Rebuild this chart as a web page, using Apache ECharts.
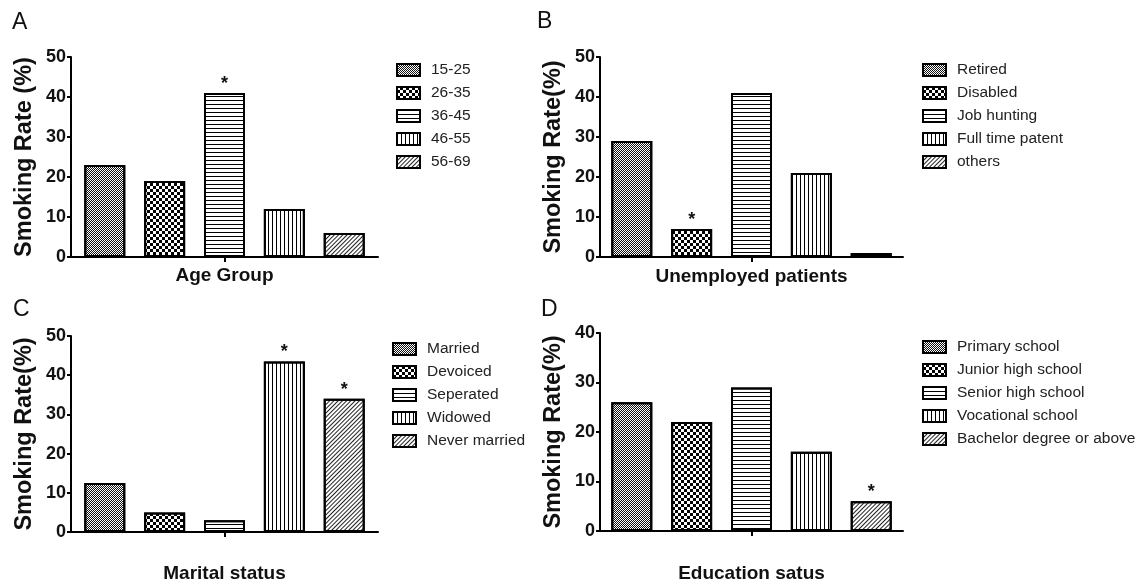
<!DOCTYPE html>
<html>
<head>
<meta charset="utf-8">
<script src="https://cdn.jsdelivr.net/npm/echarts@6/dist/echarts.min.js"></script>
<style>
html,body{margin:0;padding:0;background:#fff;}
#chart{width:1144px;height:584px;}
</style>
</head>
<body>
<div id="chart"></div>
<script>
// ---- data ----
const panelLetters = ['A', 'B', 'C', 'D'];
const xAxisNames = ['Age Group', 'Unemployed patients', 'Marital status', 'Education satus'];
const yAxisNames = ['Smoking Rate (%)', 'Smoking Rate(%)', 'Smoking Rate(%)', 'Smoking Rate(%)'];
const yMax = [50, 50, 50, 40];
const yInterval = [10, 10, 10, 10];

const catsA = ['15-25', '26-35', '36-45', '46-55', '56-69'];
const valsA = [23, 19, 41, 12, 6];
const starsA = [false, false, true, false, false];

const catsB = ['Retired', 'Disabled', 'Job hunting', 'Full time patent', 'others'];
const valsB = [29, 7, 41, 21, 1];
const starsB = [false, true, false, false, false];

const catsC = ['Married', 'Devoiced', 'Seperated', 'Widowed', 'Never married'];
const valsC = [12.5, 5, 3, 43.5, 34];
const starsC = [false, false, false, true, true];

const catsD = ['Primary school', 'Junior high school', 'Senior high school', 'Vocational school', 'Bachelor degree or above'];
const valsD = [26, 22, 29, 16, 6];
const starsD = [false, false, false, false, true];

const panels = [
  { cats: catsA, vals: valsA, stars: starsA },
  { cats: catsB, vals: valsB, stars: starsB },
  { cats: catsC, vals: valsC, stars: starsC },
  { cats: catsD, vals: valsD, stars: starsD }
];

// ---- layout / style ----
const grids = [
  { left: 71, top: 57, width: 307, height: 200 },
  { left: 600, top: 57, width: 303, height: 200 },
  { left: 71, top: 336, width: 307, height: 199 },
  { left: 600, top: 333, width: 303, height: 200 }
];
const barWidths = [41, 41, 41, 41];
const barGaps = ['46%', '46%', '46%', '46%'];
const xNameGaps = [9, 10, 32, 33];
const legendPos = [
  { left: 396, top: 62 },
  { left: 922, top: 62 },
  { left: 392, top: 341 },
  { left: 922, top: 339 }
];
const letterPos = [
  { left: 12, top: 11 },
  { left: 537, top: 10 },
  { left: 13, top: 298 },
  { left: 541, top: 298 }
];

const decals = [
  { symbol: 'rect', symbolSize: 1, color: '#111', dashArrayX: [[1, 1], [0, 1, 1, 0]], dashArrayY: [1, 0] },
  { symbol: 'rect', symbolSize: 1, color: '#000', dashArrayX: [[3, 3], [0, 3, 3, 0]], dashArrayY: [3, 0] },
  { symbol: 'rect', symbolSize: 1, color: '#000', dashArrayX: [1, 0], dashArrayY: [1, 3] },
  { symbol: 'rect', symbolSize: 1, color: '#000', dashArrayX: [1, 3], dashArrayY: [1, 0] },
  { symbol: 'rect', symbolSize: 1, color: '#222', dashArrayX: [1, 0], dashArrayY: [1, 1.5], rotation: -Math.PI / 4 }
];

const FONT = 'Arial, "Liberation Sans", Helvetica, sans-serif';

const option = {
  animation: false,
  backgroundColor: '#fff',
  title: panelLetters.map((t, i) => ({
    text: t, left: letterPos[i].left, top: letterPos[i].top, padding: 0,
    textStyle: { fontFamily: FONT, fontSize: 23, fontWeight: 'normal', color: '#111' }
  })),
  grid: grids.map(g => Object.assign({ containLabel: false }, g)),
  legend: panels.map((p, i) => ({
    data: p.cats,
    orient: 'vertical',
    left: legendPos[i].left,
    top: legendPos[i].top,
    padding: 0,
    icon: 'rect',
    itemWidth: 23,
    itemHeight: 12,
    itemGap: 7,
    selectedMode: false,
    textStyle: { fontFamily: FONT, fontSize: 15.5, color: '#222', padding: [0, 0, 0, 6] }
  })),
  xAxis: panels.map((p, i) => ({
    type: 'category',
    gridIndex: i,
    data: [xAxisNames[i]],
    name: xAxisNames[i],
    nameLocation: 'middle',
    nameGap: xNameGaps[i],
    nameTextStyle: { fontFamily: FONT, fontSize: 19, fontWeight: 'bold', color: '#111' },
    axisLine: { lineStyle: { color: '#000', width: 2 } },
    axisTick: { show: true, alignWithLabel: true, length: 5, lineStyle: { color: '#000', width: 2 } },
    axisLabel: { show: false },
    splitLine: { show: false }
  })),
  yAxis: panels.map((p, i) => ({
    type: 'value',
    gridIndex: i,
    min: 0,
    max: yMax[i],
    interval: yInterval[i],
    name: yAxisNames[i],
    nameLocation: 'middle',
    nameGap: 34,
    nameTextStyle: { fontFamily: FONT, fontSize: 23.5, fontWeight: 'bold', color: '#111' },
    axisLine: { show: true, lineStyle: { color: '#000', width: 2 } },
    axisTick: { show: true, inside: false, length: 4, lineStyle: { color: '#000', width: 2 } },
    axisLabel: { fontFamily: FONT, fontSize: 18, fontWeight: 'bold', color: '#111', margin: 5 },
    splitLine: { show: false }
  })),
  series: []
};

panels.forEach((p, pi) => {
  p.cats.forEach((c, ci) => {
    const item = { value: p.vals[ci] };
    if (p.stars[ci]) {
      item.label = {
        show: true, position: 'top', distance: 0, formatter: '*',
        fontFamily: FONT, fontSize: 18, fontWeight: 'bold', color: '#111'
      };
    }
    option.series.push({
      type: 'bar',
      name: c,
      xAxisIndex: pi,
      yAxisIndex: pi,
      barWidth: barWidths[pi],
      barGap: barGaps[pi],
      data: [item],
      itemStyle: { color: '#fff', borderColor: '#000', borderWidth: 2, decal: decals[ci] },
      emphasis: { disabled: true }
    });
  });
});

const chart = echarts.init(document.getElementById('chart'), null, { renderer: 'canvas' });
chart.setOption(option);
</script>
</body>
</html>
